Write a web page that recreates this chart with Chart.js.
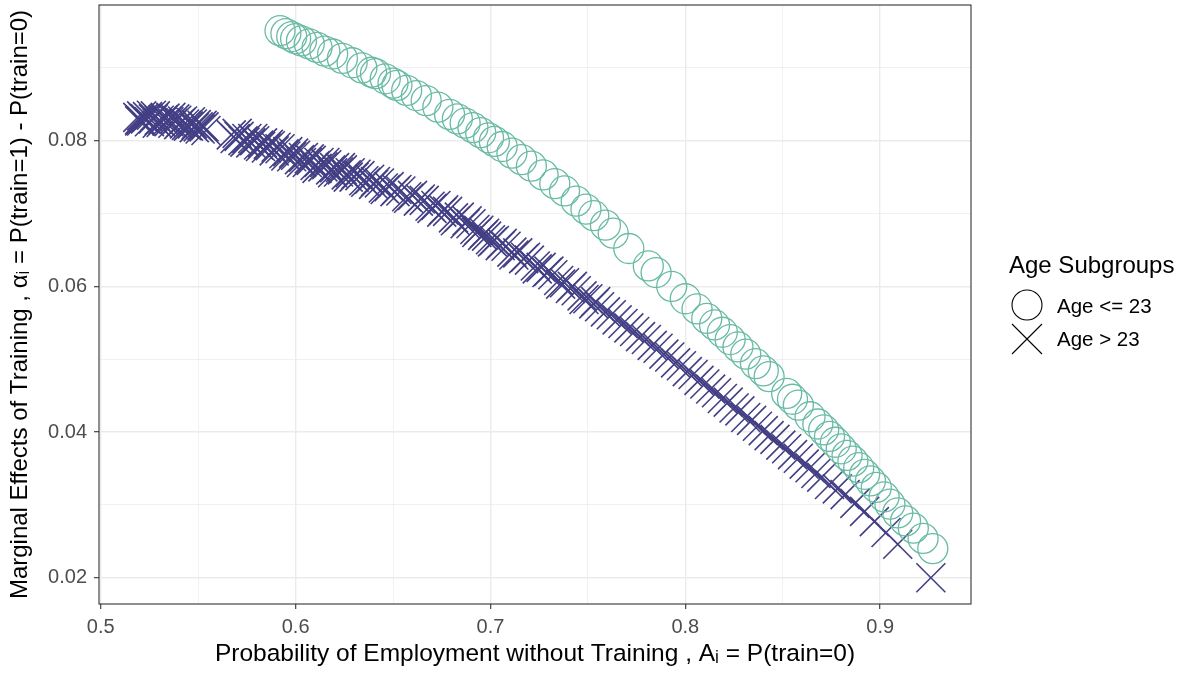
<!DOCTYPE html>
<html><head><meta charset="utf-8">
<script src="https://cdn.jsdelivr.net/npm/chart.js@4"></script>
<style>html,body{margin:0;padding:0;background:#fff}canvas{display:block}</style>
</head><body>
<canvas id="c" width="1187" height="674"></canvas>
<script>
// ---- data ----
const youngX = [0.592,0.595,0.598,0.600,0.603,0.607,0.611,0.615,0.619,0.624,0.629,0.634,0.639,0.641,0.646,0.650,0.652,0.657,0.662,0.667,0.673,0.679,0.683,0.687,0.691,0.695,0.699,0.702,0.706,0.711,0.716,0.721,0.727,0.733,0.738,0.744,0.749,0.753,0.759,0.763,0.771,0.781,0.785,0.793,0.800,0.806,0.811,0.815,0.819,0.823,0.827,0.831,0.836,0.840,0.843,0.852,0.855,0.858,0.864,0.868,0.871,0.874,0.877,0.880,0.883,0.886,0.889,0.892,0.895,0.898,0.902,0.905,0.909,0.913,0.917,0.922,0.927];
const youngY = [0.0951,0.0947,0.0943,0.0940,0.0937,0.0933,0.0928,0.0923,0.0919,0.0913,0.0907,0.0900,0.0894,0.0892,0.0885,0.0879,0.0876,0.0869,0.0862,0.0855,0.0846,0.0836,0.0830,0.0824,0.0818,0.0811,0.0804,0.0799,0.0792,0.0783,0.0774,0.0765,0.0753,0.0741,0.0731,0.0717,0.0706,0.0697,0.0684,0.0673,0.0652,0.0628,0.0619,0.0600,0.0583,0.0569,0.0556,0.0547,0.0537,0.0527,0.0517,0.0507,0.0494,0.0484,0.0476,0.0453,0.0445,0.0437,0.0421,0.0411,0.0403,0.0394,0.0386,0.0377,0.0368,0.0360,0.0351,0.0342,0.0333,0.0324,0.0311,0.0301,0.0289,0.0278,0.0268,0.0254,0.0240];

const olderX = [0.519,0.520,0.521,0.521,0.522,0.524,0.525,0.527,0.528,0.530,0.531,0.533,0.534,0.536,0.537,0.539,0.540,0.542,0.543,0.545,0.546,0.548,0.549,0.551,0.553,0.554,
0.567,0.569,0.571,0.573,0.575,0.577,0.579,0.581,0.583,0.585,0.587,0.589,0.592,0.594,0.596,0.598,0.600,0.602,0.604,0.606,0.608,0.610,0.612,0.614,0.616,0.618,0.620,0.622,0.624,0.626,0.628,0.630,0.633,0.635,0.638,0.640,0.643,0.645,0.648,0.651,0.654,0.657,0.660,0.663,0.666,0.669,0.672,0.675,0.678,0.681,0.684,0.687,0.690,0.692,0.694,0.696,0.698,0.700,0.702,0.705,0.708,0.711,0.714,0.717,0.720,0.723,0.726,0.729,0.732,0.735,0.738,0.741,0.744,0.747,0.750,0.753,0.756,0.759,0.762,0.765,0.768,0.771,0.774,0.777,0.780,0.783,0.786,0.789,0.792,0.795,0.798,0.801,0.804,0.807,0.810,0.813,0.816,0.819,0.822,0.825,0.828,0.831,0.834,0.837,0.840,0.843,0.846,0.849,0.852,0.855,0.858,0.861,0.864,0.867,0.870,0.874,0.878,0.882,0.887,0.892,0.897,0.903,0.909,0.926,
0.520,0.523,0.526,0.529,0.532,0.535,0.538,0.541,0.544,0.547,0.550,0.552,
0.570,0.574,0.578,0.582,0.586,0.590,0.595,0.599,0.603,0.607,0.611,0.615,0.619,0.623,0.627,0.631,0.636,0.641,0.646,0.652,0.658,0.664,0.670,0.676,0.682,0.688,0.693,0.697,0.701,0.706,0.712,0.718,0.724,0.730,0.736,0.742,0.748,0.754];
const olderY = [0.0832,0.0829,0.0834,0.0827,0.0831,0.0833,0.0826,0.0830,0.0834,0.0828,0.0825,0.0831,0.0827,0.0832,0.0824,0.0828,0.0822,0.0827,0.0823,0.0820,0.0826,0.0818,0.0822,0.0816,0.0819,0.0814,
0.0808,0.0803,0.0806,0.0800,0.0803,0.0797,0.0800,0.0794,0.0797,0.0790,0.0793,0.0786,0.0789,0.0782,0.0785,0.0778,0.0780,0.0774,0.0777,0.0770,0.0773,0.0766,0.0770,0.0764,0.0767,0.0760,0.0763,0.0757,0.0760,0.0753,0.0756,0.0750,0.0752,0.0745,0.0747,0.0740,0.0742,0.0735,0.0737,0.0730,0.0731,0.0723,0.0725,0.0717,0.0718,0.0710,0.0711,0.0702,0.0703,0.0694,0.0695,0.0686,0.0686,0.0678,0.0677,0.0670,0.0669,0.0664,0.0663,0.0656,0.0655,0.0647,0.0646,0.0638,0.0636,0.0628,0.0626,0.0619,0.0616,0.0608,0.0605,0.0597,0.0594,0.0587,0.0583,0.0576,0.0572,0.0565,0.0561,0.0554,0.0549,0.0543,0.0538,0.0531,0.0527,0.0519,0.0515,0.0507,0.0503,0.0495,0.0491,0.0483,0.0479,0.0471,0.0466,0.0459,0.0454,0.0446,0.0441,0.0433,0.0429,0.0420,0.0416,0.0408,0.0402,0.0395,0.0390,0.0382,0.0377,0.0369,0.0364,0.0356,0.0351,0.0343,0.0338,0.0328,0.0322,0.0314,0.0302,0.0291,0.0277,0.0262,0.0246,0.0200,
0.0827,0.0830,0.0835,0.0824,0.0829,0.0826,0.0830,0.0825,0.0821,0.0823,0.0819,0.0821,
0.0810,0.0798,0.0803,0.0792,0.0795,0.0791,0.0779,0.0783,0.0770,0.0775,0.0762,0.0770,0.0756,0.0763,0.0750,0.0754,0.0743,0.0744,0.0733,0.0733,0.0721,0.0720,0.0707,0.0705,0.0690,0.0690,0.0674,0.0673,0.0661,0.0659,0.0643,0.0640,0.0624,0.0621,0.0603,0.0600,0.0582,0.0579];

const xTickLabels = ['0.5','0.6','0.7','0.8','0.9'];
const yTickLabels = ['0.02','0.04','0.06','0.08'];
const seriesNames = ['Age <= 23','Age > 23'];
const legendTitle = 'Age Subgroups';
const xTitle = 'Probability of Employment without Training , A\u1D62 = P(train=0)';
const yTitle = 'Marginal Effects of Training , \u03B1\u1D62 = P(train=1) - P(train=0)';

// ---- chart ----
const FONT = '"Liberation Sans", Arial, "DejaVu Sans", sans-serif';
const GRID = 'rgb(235,235,235)';
const zip = (xs, ys) => xs.map((x, i) => ({x, y: ys[i]}));
const findLabel = (labels, v) => labels.find(l => Math.abs(parseFloat(l) - v) < 1e-6) || '';

function gridOpts(labels) {
  return {
    color: GRID,
    lineWidth: c => (c.tick && findLabel(labels, c.tick.value)) ? 1.4 : 0.7,
    tickColor: c => (c.tick && findLabel(labels, c.tick.value)) ? '#333333' : 'rgba(0,0,0,0)',
    tickWidth: 1.1,
    tickLength: 5,
    drawTicks: true
  };
}

const legendPlugin = {
  id: 'panelAndLegend',
  afterDraw(chart) {
    const {ctx, chartArea: a} = chart;
    ctx.save();
    ctx.strokeStyle = '#333333';
    ctx.lineWidth = 1.1;
    ctx.strokeRect(a.left, a.top, a.right - a.left, a.bottom - a.top);
    // legend
    ctx.fillStyle = '#000';
    ctx.textAlign = 'left';
    ctx.textBaseline = 'middle';
    ctx.font = '24px ' + FONT;
    ctx.fillText(legendTitle, 1009, 266);
    ctx.strokeStyle = '#000';
    ctx.lineWidth = 1.1;
    ctx.beginPath();
    ctx.arc(1027, 305, 15, 0, Math.PI * 2);
    ctx.stroke();
    ctx.beginPath();
    ctx.moveTo(1012, 324); ctx.lineTo(1042, 354);
    ctx.moveTo(1042, 324); ctx.lineTo(1012, 354);
    ctx.stroke();
    ctx.font = '20.5px ' + FONT;
    ctx.fillText(seriesNames[0], 1057, 307);
    ctx.fillText(seriesNames[1], 1057, 340);
    ctx.restore();
  }
};

new Chart(document.getElementById('c'), {
  type: 'scatter',
  data: {
    datasets: [
      {
        label: seriesNames[0],
        data: zip(youngX, youngY),
        pointStyle: 'circle',
        pointRadius: 15,
        pointBorderWidth: 1.3,
        borderColor: '#69bba4',
        backgroundColor: 'rgba(0,0,0,0)'
      },
      {
        label: seriesNames[1],
        data: zip(olderX, olderY),
        pointStyle: 'crossRot',
        pointRadius: 20.5,
        pointBorderWidth: 1.6,
        borderColor: '#433f85',
        backgroundColor: '#433f85'
      }
    ]
  },
  options: {
    responsive: false,
    animation: false,
    events: [],
    layout: {autoPadding: false, padding: {top: 5, right: 216, left: 0, bottom: 0}},
    plugins: {legend: {display: false}, tooltip: {enabled: false}},
    scales: {
      x: {
        type: 'linear',
        min: 0.4991, max: 0.9466,
        afterFit: s => { s.height = 70; s.paddingLeft = 0; s.paddingRight = 0; },
        border: {display: false},
        grid: gridOpts(xTickLabels),
        ticks: {
          stepSize: 0.05, includeBounds: false, autoSkip: false, maxRotation: 0,
          padding: 6, color: '#4d4d4d', font: {family: FONT, size: 20},
          callback: v => findLabel(xTickLabels, v)
        },
        title: {
          display: true, text: xTitle, color: '#000',
          font: {family: FONT, size: 24.5}, padding: {top: 0, bottom: 5}
        }
      },
      y: {
        type: 'linear',
        min: 0.01639, max: 0.09863,
        afterFit: s => { s.width = 99; s.paddingTop = 0; s.paddingBottom = 0; },
        border: {display: false},
        grid: gridOpts(yTickLabels),
        ticks: {
          stepSize: 0.01, includeBounds: false, autoSkip: false,
          padding: 7, color: '#4d4d4d', font: {family: FONT, size: 20},
          callback: v => findLabel(yTickLabels, v)
        },
        title: {
          display: true, text: yTitle, color: '#000',
          font: {family: FONT, size: 24}, padding: {top: 6, bottom: 0}
        }
      }
    }
  },
  plugins: [legendPlugin]
});
</script>
</body></html>
